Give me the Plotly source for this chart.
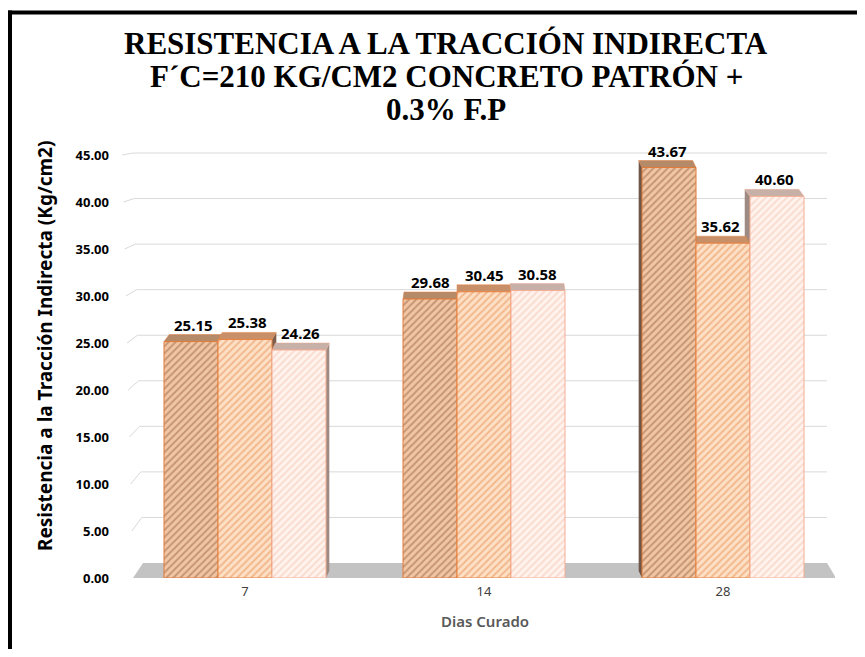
import plotly.graph_objects as go

# datos
dias = ["7", "14", "28"]
muestra_1 = [25.15, 29.68, 43.67]
muestra_2 = [25.38, 30.45, 35.62]
muestra_3 = [24.26, 30.58, 40.60]
y_ticks = [0, 5, 10, 15, 20, 25, 30, 35, 40, 45]

series = [muestra_1, muestra_2, muestra_3]

# estilos de cada barra (frente con trama, cara superior, costado)
estilos = [
    dict(bg="#f1c6a4", fg="#9a6443", line="#e07b39", top="#b58a69", side="#6e5648"),
    dict(bg="#fde0c6", fg="#e68f54", line="#e8803f", top="#c79068", side="#7c5e4c"),
    dict(bg="#fff3ee", fg="#f5c3b0", line="#f3ad94", top="#c7b0a8", side="#9d8a82"),
]

# la pagina deja 8px de margen: la figura se corre 8px
OFF = 8
W, H = 865 - 2 * OFF, 641
ML, MT = 122 - OFF, 127 - OFF
PW = 835 - 122
PH = 578 - 127
MR, MB = W - ML - PW, H - MT - PH
X0_PX, PX_X = 245 - OFF, 239    # pixel of first category, px per category
PX_Y = 9.4                      # px per y unit (front scale)
x_range = [-(X0_PX - ML) / PX_X, (ML + PW - X0_PX) / PX_X]
y_range = [0, PH / PX_Y]

ancho = 54 / PX_X
offsets = [-1.5 * ancho, -0.5 * ancho, 0.5 * ancho]
xs = list(range(len(dias)))

fig = go.Figure()
for vals, off, st in zip(series, offsets, estilos):
    fig.add_trace(go.Bar(
        x=xs, y=vals, width=ancho, offset=off,
        marker=dict(color=st["bg"], line=dict(color=st["line"], width=1),
                    pattern=dict(shape="/", bgcolor=st["bg"], fgcolor=st["fg"],
                                 size=5, solidity=0.4)),
        showlegend=False, hoverinfo="skip"))

shapes = []


def px2x(px):
    # px medido en la referencia
    return (px - OFF - X0_PX) / PX_X


def px2paper_x(px):
    return (px - OFF - ML) / PW


def px2paper_y(py):
    return (MT + PH - (py - OFF)) / PH


# piso gris
fondo = 15 / PX_Y
shapes.append(dict(type="path", layer="below", line=dict(width=0), fillcolor="#c3c3c3",
                   path=f"M {px2x(133)},0 L {px2x(836)},0 L {px2x(827)},{fondo} L {px2x(143)},{fondo} Z"))

# lineas de division en la pared del fondo
for v in y_ticks[1:]:
    yb = (15 + 9.111 * v) / PX_Y
    xf = px2x(133 - 0.24 * v)
    xb = px2x(143 - 0.22 * v)
    shapes.append(dict(type="path", layer="below", line=dict(color="#d9d9d9", width=1),
                       path=f"M {xf},{v} L {xb},{yb} L {px2x(827)},{yb}"))

dy = 7 / PX_Y
tops = []
labels = []
for vals, off, st in zip(series, offsets, estilos):
    for j, v in zip(xs, vals):
        x0 = j + off
        x1 = x0 + ancho
        cpx = X0_PX + PX_X * (x0 + ancho / 2)
        dx = (484 - OFF - cpx) * 0.018 / PX_X
        xs_ = x1 if dx >= 0 else x0
        shapes.append(dict(type="path", layer="below", line=dict(width=0), fillcolor=st["side"],
                           path=f"M {xs_},0 L {xs_},{v} L {xs_ + dx},{v + dy} L {xs_ + dx},{dy} Z"))
        tops.append(dict(type="path", layer="below", line=dict(color=st["line"], width=0.5),
                         fillcolor=st["top"],
                         path=f"M {x0},{v} L {x1},{v} L {x1 + dx},{v + dy} L {x0 + dx},{v + dy} Z"))
        labels.append(dict(x=x0 + ancho / 2 + dx / 2, y=v + dy, text=f"{v:.2f}", showarrow=False,
                           yanchor="bottom", yshift=-2,
                           font=dict(family="Noto Sans", size=15, color="#000000", weight="bold")))
shapes += tops

# marco negro del grafico (solo se ven el borde superior y el izquierdo)
marco = dict(color="#000000", width=4)
shapes.append(dict(type="line", xref="paper", yref="paper", layer="above", line=marco,
                   x0=px2paper_x(8), x1=px2paper_x(857),
                   y0=px2paper_y(12.5), y1=px2paper_y(12.5)))
shapes.append(dict(type="line", xref="paper", yref="paper", layer="above", line=marco,
                   x0=px2paper_x(10), x1=px2paper_x(10),
                   y0=px2paper_y(10.5), y1=px2paper_y(OFF + H)))

titulo = ["RESISTENCIA A LA TRACCIÓN INDIRECTA", "F´C=210 KG/CM2 CONCRETO PATRÓN +", "0.3% F.P"]
for linea, ypx in zip(titulo, [44, 76, 109]):
    labels.append(dict(xref="paper", yref="paper", x=px2paper_x(446), y=px2paper_y(ypx),
                       text=linea, showarrow=False, xanchor="center", yanchor="middle",
                       font=dict(family="Liberation Serif", size=31,
                                 color="#000000", weight="bold")))

# titulos de ejes
labels.append(dict(xref="paper", yref="paper", x=px2paper_x(45), y=px2paper_y(346),
                   text="Resistencia a la Tracción Indirecta (Kg/cm2)", showarrow=False,
                   textangle=-90, xanchor="center", yanchor="middle",
                   font=dict(family="Noto Sans", size=19, color="#000000", weight="bold")))
labels.append(dict(xref="paper", yref="paper", x=px2paper_x(485), y=px2paper_y(621),
                   text="Dias Curado", showarrow=False, xanchor="center", yanchor="middle",
                   font=dict(family="Noto Sans", size=15, color="#595959", weight=600)))

fig.update_layout(
    width=W, height=H,
    margin=dict(l=ML, r=MR, t=MT, b=MB, autoexpand=False),
    paper_bgcolor="white", plot_bgcolor="white",
    shapes=shapes, annotations=labels,
    xaxis=dict(range=x_range, tickvals=xs, ticktext=dias, showgrid=False, zeroline=False,
               showline=False, automargin=False, ticklabelstandoff=4,
               tickfont=dict(family="Noto Sans", size=13, color="#404040")),
    yaxis=dict(range=y_range, tickvals=y_ticks, ticktext=[f"{t:.2f}" for t in y_ticks],
               showgrid=False, zeroline=False, showline=False, ticklabelstandoff=12,
               automargin=False,
               tickfont=dict(family="Noto Sans", size=13, color="#000000", weight="bold")),
)

fig.write_html("out.html")
